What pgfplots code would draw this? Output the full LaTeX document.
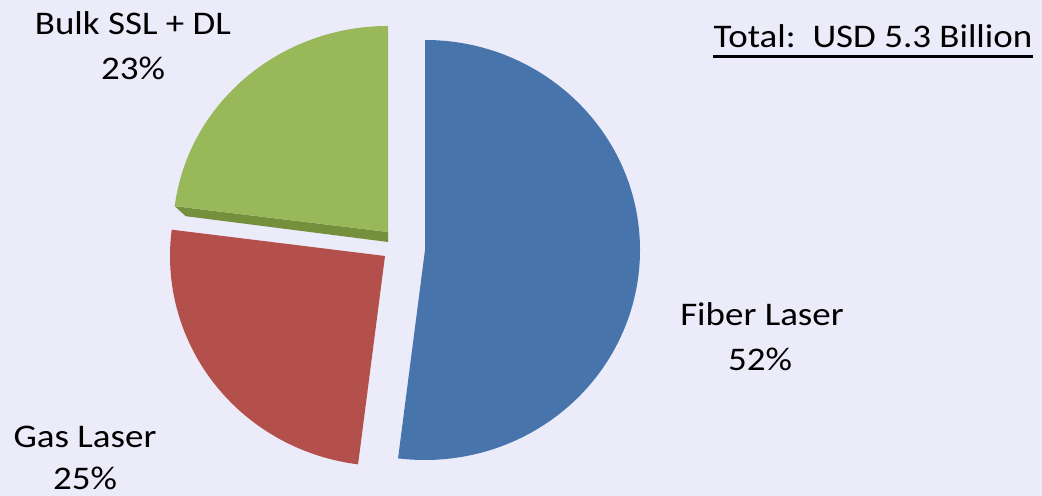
\documentclass[border=0pt]{standalone}
\usepackage{pgfplots}
\pgfplotsset{compat=1.18}
\usepackage{pgfplotstable}
\usepackage{fontspec}
\setmainfont{Carlito}
\usepackage{graphicx}
\definecolor{bg}{RGB}{235,235,250}
\definecolor{pieblue}{RGB}{71,117,171}
\definecolor{piered}{RGB}{180,80,76}
\definecolor{piegreen}{RGB}{153,184,89}
\definecolor{piegreendark}{RGB}{116,144,60}

\pgfplotstableread{
name value
Fiber 52
Gas 25
Bulk 23
}\piedata
\pgfplotstablegetelem{0}{value}\of\piedata \let\vF\pgfplotsretval
\pgfplotstablegetelem{1}{value}\of\piedata \let\vG\pgfplotsretval
\pgfplotstablegetelem{2}{value}\of\piedata \let\vB\pgfplotsretval
\pgfmathsetmacro{\aF}{90-3.6*\vF}
\pgfmathsetmacro{\aB}{90+3.6*\vB}
\pgfmathsetmacro{\aG}{\aB+3.6*\vG}
\newcommand{\lbl}[1]{\scalebox{1.12}[1]{\fontsize{16.5pt}{19pt}\selectfont #1}}

\begin{document}
\begin{tikzpicture}
\begin{axis}[width=521pt,height=248pt,scale only axis,
  xmin=0,xmax=1042,ymin=0,ymax=496,hide axis,clip=false]
\fill[bg] (axis cs:0,0) rectangle (axis cs:1042,496);
% Fiber Laser
\fill[pieblue] (axis cs:425,246) -- ++(90:107.5pt and 105pt)
  arc[start angle=90,end angle=\aF,x radius=107.5pt,y radius=105pt] -- cycle;
% Bulk SSL + DL (with thickness band)
\fill[piegreendark] (axis cs:388,264) -- ++(\aB:107.5pt and 103pt) -- ++(5.5pt,-5pt) -- (axis cs:388,254) -- cycle;
\fill[piegreen] (axis cs:388,264) -- ++(90:107.5pt and 103pt)
  arc[start angle=90,end angle=\aB,x radius=107.5pt,y radius=103pt] -- cycle;
% Gas Laser
\fill[piered] (axis cs:385,240) -- ++(\aB:107.5pt and 105pt)
  arc[start angle=\aB,end angle=\aG,x radius=107.5pt,y radius=105pt] -- cycle;
% labels
\node[anchor=base,inner sep=0pt] at (axis cs:133,461) {\lbl{Bulk SSL + DL}};
\node[anchor=base,inner sep=0pt] at (axis cs:133,416) {\lbl{\vB\%}};
\node[anchor=base,inner sep=0pt] at (axis cs:762,170) {\lbl{Fiber Laser}};
\node[anchor=base,inner sep=0pt] at (axis cs:760,125) {\lbl{\vF\%}};
\node[anchor=base,inner sep=0pt] at (axis cs:85,48) {\lbl{Gas Laser}};
\node[anchor=base,inner sep=0pt] at (axis cs:85,6) {\lbl{\vG\%}};
\node[anchor=base,inner sep=0pt] (tot) at (axis cs:873,448) {\lbl{Total:\ \ USD 5.3 Billion}};
\draw[line width=1.5pt] ([yshift=-4.5pt]tot.base west) -- ([yshift=-4.5pt]tot.base east);
\end{axis}
\end{tikzpicture}
\end{document}
